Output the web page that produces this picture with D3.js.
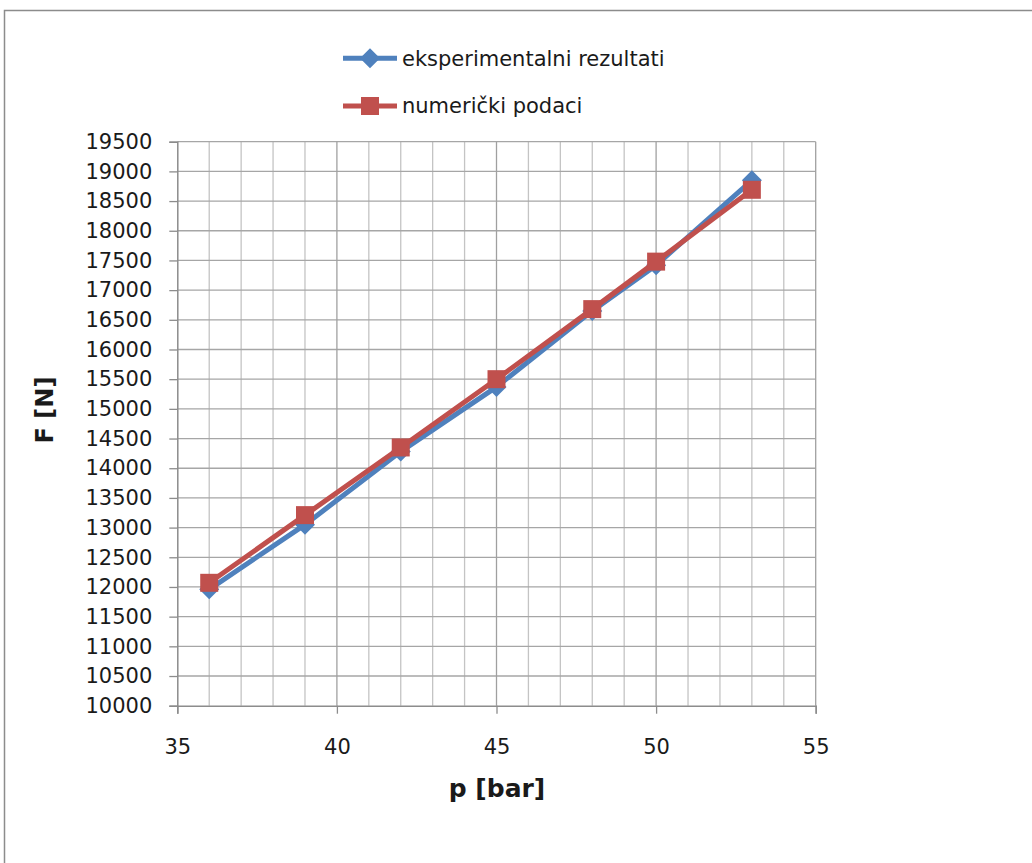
<!DOCTYPE html>
<html>
<head>
<meta charset="utf-8">
<script src="https://cdn.jsdelivr.net/npm/d3@7"></script>
<style>
  body { margin: 0; background: #fff; }
  text { font-family: "DejaVu Sans", sans-serif; fill: #1a1a1a; }
</style>
</head>
<body>
<script>
// values
var pressure = [36, 39, 42, 45, 48, 50, 53];
var forceExp = [11960, 13050, 14280, 15370, 16650, 17420, 18850];
var forceNum = [12070, 13210, 14350, 15500, 16680, 17480, 18690];
var seriesNames = ["eksperimentalni rezultati", "numerički podaci"];
var seriesColors = ["#4F81BD", "#C0504D"];

var W = 1032, H = 863;
var margin = {top: 141.7, right: 216.3, bottom: 157.3, left: 177.3},
    width = W - margin.left - margin.right,
    height = H - margin.top - margin.bottom;

var svg = d3.select("body").append("svg")
    .attr("width", W)
    .attr("height", H);

// outer chart border (only top and left visible)
svg.append("path")
    .attr("d", "M4.5," + H + "V10.5H" + W)
    .attr("fill", "none")
    .attr("stroke", "#8c8c8c")
    .attr("stroke-width", 1.5);

var g = svg.append("g")
    .attr("transform", "translate(" + margin.left + "," + margin.top + ")");

var x = d3.scaleLinear().domain([35, 55]).range([0, width]);
var y = d3.scaleLinear().domain([10000, 19500]).range([height, 0]);

// minor vertical gridlines
g.append("g")
  .selectAll("line")
  .data(d3.range(35, 56, 1).filter(function(d) { return d % 5 !== 0; }))
  .enter().append("line")
    .attr("x1", function(d) { return x(d); })
    .attr("x2", function(d) { return x(d); })
    .attr("y1", 0).attr("y2", height)
    .attr("stroke", "#c4c4c4")
    .attr("stroke-width", 1.3);

// horizontal gridlines
g.append("g")
  .selectAll("line")
  .data(d3.range(10500, 19501, 500))
  .enter().append("line")
    .attr("x1", 0).attr("x2", width)
    .attr("y1", function(d) { return y(d); })
    .attr("y2", function(d) { return y(d); })
    .attr("stroke", "#a6a6a6")
    .attr("stroke-width", 1.3);

// major vertical gridlines
g.append("g")
  .selectAll("line")
  .data([40, 45, 50, 55])
  .enter().append("line")
    .attr("x1", function(d) { return x(d); })
    .attr("x2", function(d) { return x(d); })
    .attr("y1", 0).attr("y2", height)
    .attr("stroke", "#a0a0a0")
    .attr("stroke-width", 1.3);

// axes
var xAxis = g.append("g")
    .attr("transform", "translate(0," + height + ")")
    .call(d3.axisBottom(x).tickValues(d3.range(35, 56, 5)).tickSize(8).tickPadding(25));
var yAxis = g.append("g")
    .call(d3.axisLeft(y).tickValues(d3.range(10000, 19501, 500)).tickSize(8).tickPadding(17)
      .tickFormat(d3.format("d")));

[xAxis, yAxis].forEach(function(a) {
  a.select(".domain").attr("stroke", "#8c8c8c").attr("stroke-width", 1.5);
  a.selectAll(".tick line").attr("stroke", "#8c8c8c").attr("stroke-width", 1.3);
  a.selectAll("text")
    .attr("font-family", "DejaVu Sans, sans-serif")
    .attr("font-size", 21)
    .attr("fill", "#1a1a1a");
});

var line = d3.line()
    .x(function(d) { return x(d[0]); })
    .y(function(d) { return y(d[1]); });

var diamond = "M0,-10L10,0L0,10L-10,0Z";
var square = "M-9,-9H9V9H-9Z";

var dataExp = pressure.map(function(p, i) { return [p, forceExp[i]]; });
var dataNum = pressure.map(function(p, i) { return [p, forceNum[i]]; });

g.append("path")
    .datum(dataExp)
    .attr("d", line)
    .attr("fill", "none")
    .attr("stroke", seriesColors[0])
    .attr("stroke-width", 5);
g.selectAll(".mexp")
    .data(dataExp)
  .enter().append("path")
    .attr("class", "mexp")
    .attr("transform", function(d) { return "translate(" + x(d[0]) + "," + y(d[1]) + ")"; })
    .attr("d", diamond)
    .attr("fill", seriesColors[0]);

g.append("path")
    .datum(dataNum)
    .attr("d", line)
    .attr("fill", "none")
    .attr("stroke", seriesColors[1])
    .attr("stroke-width", 5);
g.selectAll(".mnum")
    .data(dataNum)
  .enter().append("path")
    .attr("class", "mnum")
    .attr("transform", function(d) { return "translate(" + x(d[0]) + "," + y(d[1]) + ")"; })
    .attr("d", square)
    .attr("fill", seriesColors[1]);

// legend
var legend = svg.append("g");
var legendY = [58.3, 106];
var markers = [diamond, square];
seriesNames.forEach(function(name, i) {
  var lg = legend.append("g").attr("transform", "translate(343," + legendY[i] + ")");
  lg.append("line")
    .attr("x1", 0).attr("x2", 54)
    .attr("stroke", seriesColors[i])
    .attr("stroke-width", 5);
  lg.append("path")
    .attr("transform", "translate(27,0)")
    .attr("d", markers[i])
    .attr("fill", seriesColors[i]);
  lg.append("text")
    .attr("x", 59)
    .attr("dy", "0.35em")
    .attr("font-size", 21)
    .text(name);
});

// axis titles
svg.append("text")
    .attr("x", 497)
    .attr("y", 797)
    .attr("text-anchor", "middle")
    .attr("font-weight", "bold")
    .attr("font-size", 25)
    .attr("fill", "#000")
    .text("p [bar]");

svg.append("text")
    .attr("transform", "translate(53,410) rotate(-90)")
    .attr("text-anchor", "middle")
    .attr("font-weight", "bold")
    .attr("font-size", 24)
    .attr("fill", "#000")
    .text("F [N]");
</script>
</body>
</html>
